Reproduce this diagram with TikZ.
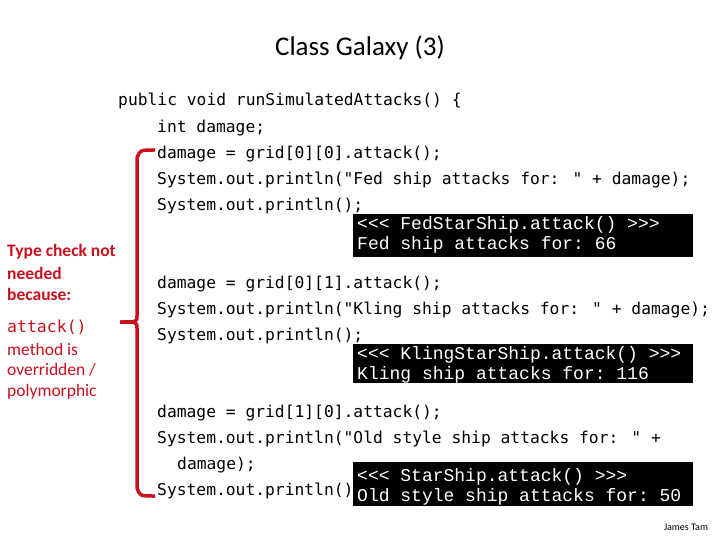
\documentclass[tikz,border=0pt]{standalone}
\usepackage{fontspec}
\setmainfont{Carlito}
\setmonofont{Liberation Mono}
\newfontfamily\codefont{DejaVu Sans Mono}
\definecolor{redc}{RGB}{200,16,30}
\begin{document}
\begin{tikzpicture}[x=1pt,y=-1pt,
  code/.style={anchor=west,inner sep=0pt,font=\codefont\fontsize{16.3}{18}\selectfont},
  cons/.style={anchor=west,inner sep=0pt,text=white,font=\ttfamily\fontsize{18}{20}\selectfont},
  note/.style={anchor=west,inner sep=0pt,text=redc,font=\bfseries\fontsize{17.5}{20}\selectfont},
  note2/.style={anchor=west,inner sep=0pt,text=redc,font=\fontsize{17.5}{20}\selectfont}]
\useasboundingbox (0,0) rectangle (720,540);
\node (title) at (360,48) {\fontsize{27}{32}\selectfont Class Galaxy (3)};
\node[code] (c0) at (118,101) {public void runSimulatedAttacks() \{};
\node[code] (c1) at (157,128) {int damage;};
\node[code] (c2) at (157,154) {damage = grid[0][0].attack();};
\node[code] (c3) at (157,180) {System.out.println("Fed ship attacks for: " + damage);};
\node[code] (c4) at (157,206) {System.out.println();};
\node[code] (c5) at (157,284) {damage = grid[0][1].attack();};
\node[code] (c6) at (157,310) {System.out.println("Kling ship attacks for: " + damage);};
\node[code] (c7) at (157,336) {System.out.println();};
\node[code] (c8) at (157,413) {damage = grid[1][0].attack();};
\node[code] (c9) at (157,439) {System.out.println("Old style ship attacks for: " +};
\node[code] (c10) at (177,465) {damage);};
\node[code] (c11) at (157,491) {System.out.println();};
\fill[black] (353,214) rectangle (693,257);
\fill[black] (353,344) rectangle (693,383);
\fill[black] (353,462) rectangle (693,506);
\node[cons] (o1) at (357,225) {<<< FedStarShip.attack() >>>};
\node[cons] (o2) at (357,245) {Fed ship attacks for: 66};
\node[cons] (o3) at (357,355) {<<< KlingStarShip.attack() >>>};
\node[cons] (o4) at (357,375) {Kling ship attacks for: 116};
\node[cons] (o5) at (357,477) {<<< StarShip.attack() >>>};
\node[cons] (o6) at (357,497) {Old style ship attacks for: 50};
\node[note] (n1) at (7,252) {Type check not};
\node[note] (n2) at (7,273) {needed};
\node[note] (n3) at (7,294) {because:};
\node[anchor=west,inner sep=0pt,text=redc,font=\codefont\fontsize{16.5}{18}\selectfont] (n4) at (7,327) {attack()};
\node[note2] (n5) at (7,349) {method is};
\node[note2] (n6) at (7,370) {overridden /};
\node[note2] (n7) at (7,392) {polymorphic};
\draw[redc,line width=3.5pt] (155,150) .. controls (140,150) .. (137,158) -- (137,316) .. controls (137,322) .. (120,322);
\draw[redc,line width=3.5pt] (120,322) .. controls (137,322) .. (137,328) -- (137,488) .. controls (140,496) .. (155,496);
\node[font=\fontsize{10}{12}\selectfont,inner sep=0pt] (jt) at (686,527) {James Tam};
\end{tikzpicture}
\end{document}
